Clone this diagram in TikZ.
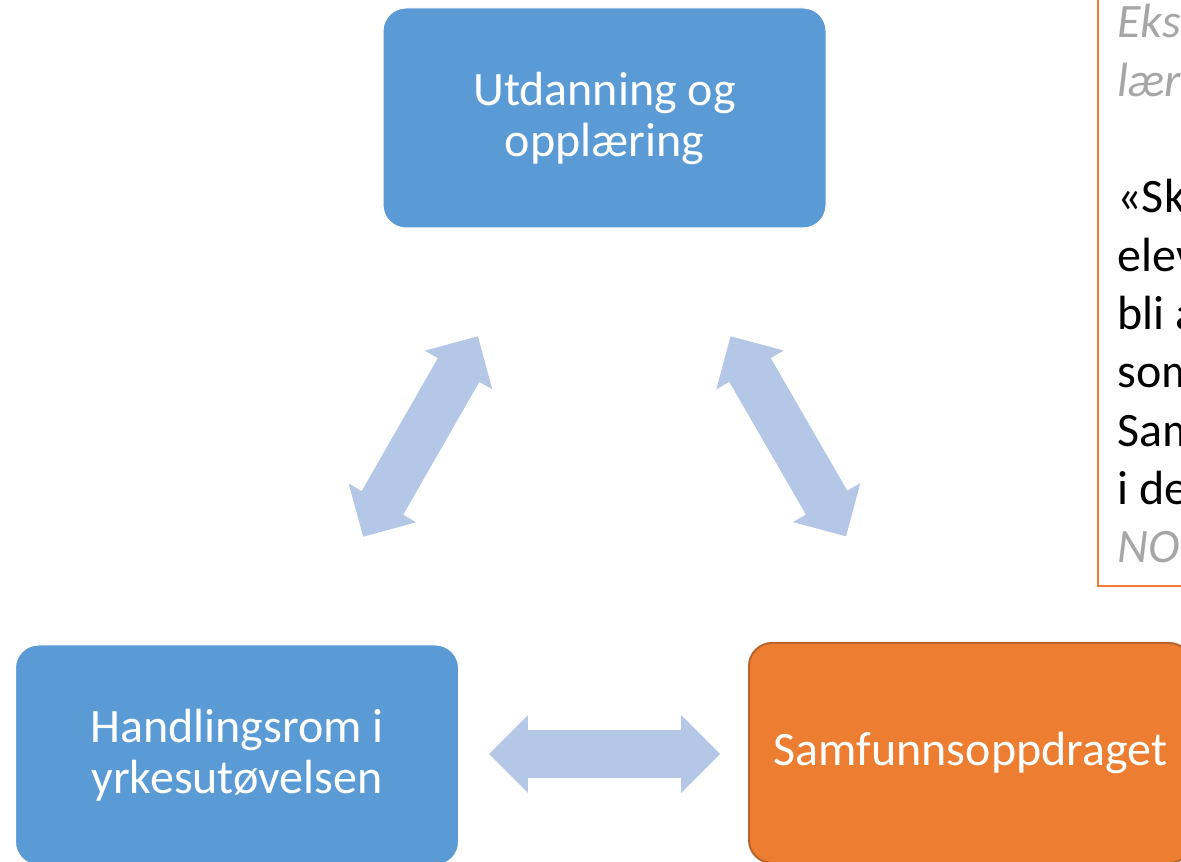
\documentclass[tikz,border=0pt]{standalone}
\usepackage{fontspec}
\setmainfont{Carlito}
\usepackage{tikz}
\usetikzlibrary{shapes.arrows,positioning}
\definecolor{boxblue}{HTML}{5B9BD5}
\definecolor{boxorange}{HTML}{ED7D31}
\definecolor{boxedge}{HTML}{B8642A}
\definecolor{arrowblue}{HTML}{B4C7E7}
\definecolor{notegrey}{HTML}{A6A6A6}
\tikzset{
  card/.style={rectangle, rounded corners=11.5pt, minimum width=221.5pt, minimum height=110pt,
    align=center, text=white, inner sep=0pt, font=\fontsize{24pt}{25.5pt}\selectfont},
  bluecard/.style={card, fill=boxblue, draw=white, line width=0.5pt},
  orangecard/.style={card, fill=boxorange, draw=boxedge, line width=1pt},
  twoway/.style={double arrow, fill=arrowblue, draw=none, inner xsep=0pt, inner ysep=11.75pt,
    minimum height=115.5pt, double arrow head extend=7.5pt, double arrow tip angle=90},
  noteframe/.style={draw=boxorange, line width=1pt},
  noteplain/.style={anchor=base west, inner sep=0pt, font=\fontsize{24pt}{29pt}\selectfont},
  noteitalic/.style={noteplain, text=notegrey, font=\fontsize{24pt}{29pt}\selectfont\itshape},
}

\begin{document}
\begin{tikzpicture}[x=0.5pt, y=0.5pt]
\useasboundingbox (0,0) rectangle (1181,861);
\clip (0,0) rectangle (1181,861);

% the three boxes
\node[bluecard] (utd) at (604.5,743) {Utdanning og\\opplæring};
\node[bluecard] (hand) at (237,106) {Handlingsrom i\\yrkesutøvelsen};
\node[orangecard] (samf) at (970.5,108) {Samfunnsoppdraget};

% two-way arrows between them
\node[twoway, rotate=60.2] (utdhand) at (420.5,424.5) {};
\node[twoway, rotate=-60] (utdsamf) at (788.3,424.7) {};
\node[twoway] (handsamf) at (604.5,107) {};

% quote box, cut off at the edge
\draw[noteframe] (1098,275) rectangle (1260,900);
\foreach \txt/\k/\sty in {Eks/0/noteitalic, lær/1/noteitalic, «Sk/3/noteplain,
    elev/4/noteplain, bli a/5/noteplain, som/6/noteplain, Sam/7/noteplain,
    i de/8/noteplain, NO/9/noteitalic}
  \node[\sty] (line\k) at (1117,823-58.3*\k) {\txt};
\end{tikzpicture}
\end{document}
